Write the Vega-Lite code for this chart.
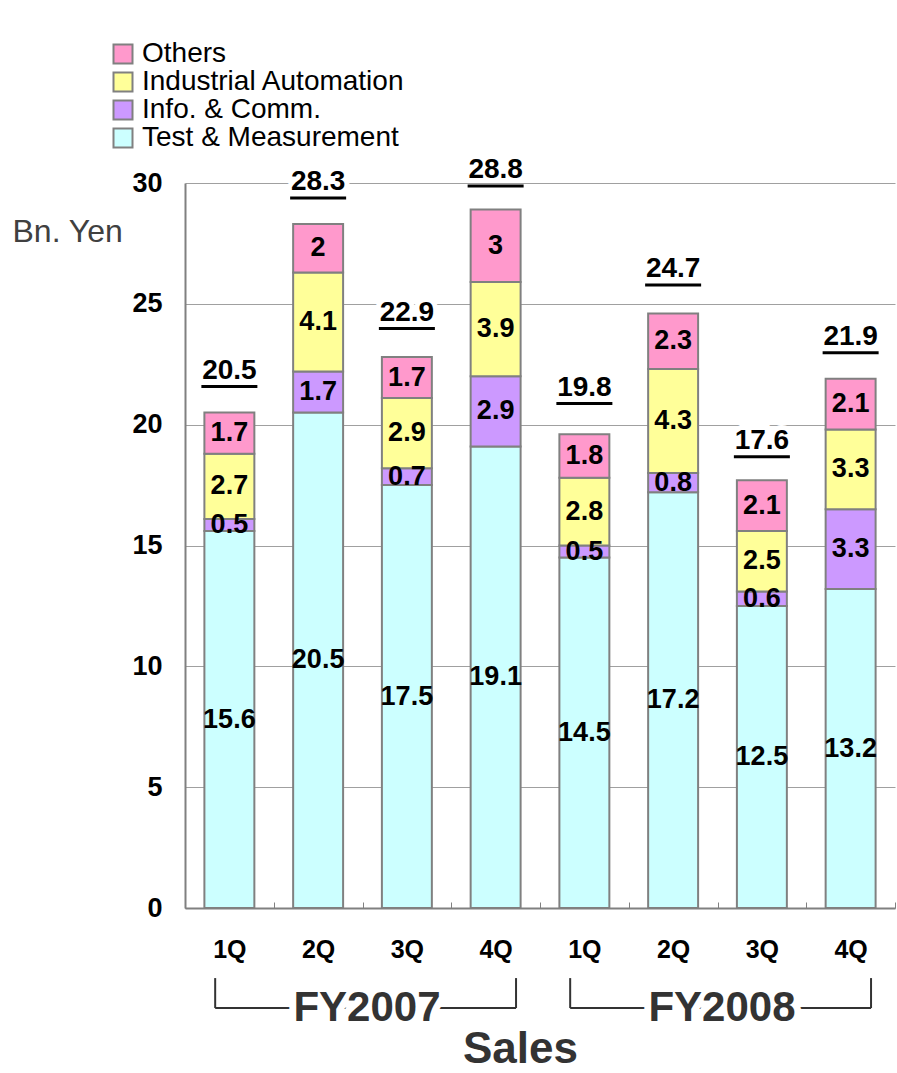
{
  "$schema": "https://vega.github.io/schema/vega-lite/v6.json",
  "autosize": {"type": "none"},
  "padding": {"left": 185, "top": 183, "right": 2, "bottom": 165},
  "width": 710,
  "height": 725,
  "config": {"font": "Liberation Sans", "view": {"stroke": null}},
  "datasets": {
    "segments": [
      {"key": "FY2007 1Q", "segment": "Test & Measurement", "rank": 1, "value": 15.6},
      {"key": "FY2007 1Q", "segment": "Info. & Comm.", "rank": 2, "value": 0.5},
      {"key": "FY2007 1Q", "segment": "Industrial Automation", "rank": 3, "value": 2.7},
      {"key": "FY2007 1Q", "segment": "Others", "rank": 4, "value": 1.7},
      {"key": "FY2007 2Q", "segment": "Test & Measurement", "rank": 1, "value": 20.5},
      {"key": "FY2007 2Q", "segment": "Info. & Comm.", "rank": 2, "value": 1.7},
      {"key": "FY2007 2Q", "segment": "Industrial Automation", "rank": 3, "value": 4.1},
      {"key": "FY2007 2Q", "segment": "Others", "rank": 4, "value": 2},
      {"key": "FY2007 3Q", "segment": "Test & Measurement", "rank": 1, "value": 17.5},
      {"key": "FY2007 3Q", "segment": "Info. & Comm.", "rank": 2, "value": 0.7},
      {"key": "FY2007 3Q", "segment": "Industrial Automation", "rank": 3, "value": 2.9},
      {"key": "FY2007 3Q", "segment": "Others", "rank": 4, "value": 1.7},
      {"key": "FY2007 4Q", "segment": "Test & Measurement", "rank": 1, "value": 19.1},
      {"key": "FY2007 4Q", "segment": "Info. & Comm.", "rank": 2, "value": 2.9},
      {"key": "FY2007 4Q", "segment": "Industrial Automation", "rank": 3, "value": 3.9},
      {"key": "FY2007 4Q", "segment": "Others", "rank": 4, "value": 3},
      {"key": "FY2008 1Q", "segment": "Test & Measurement", "rank": 1, "value": 14.5},
      {"key": "FY2008 1Q", "segment": "Info. & Comm.", "rank": 2, "value": 0.5},
      {"key": "FY2008 1Q", "segment": "Industrial Automation", "rank": 3, "value": 2.8},
      {"key": "FY2008 1Q", "segment": "Others", "rank": 4, "value": 1.8},
      {"key": "FY2008 2Q", "segment": "Test & Measurement", "rank": 1, "value": 17.2},
      {"key": "FY2008 2Q", "segment": "Info. & Comm.", "rank": 2, "value": 0.8},
      {"key": "FY2008 2Q", "segment": "Industrial Automation", "rank": 3, "value": 4.3},
      {"key": "FY2008 2Q", "segment": "Others", "rank": 4, "value": 2.3},
      {"key": "FY2008 3Q", "segment": "Test & Measurement", "rank": 1, "value": 12.5},
      {"key": "FY2008 3Q", "segment": "Info. & Comm.", "rank": 2, "value": 0.6},
      {"key": "FY2008 3Q", "segment": "Industrial Automation", "rank": 3, "value": 2.5},
      {"key": "FY2008 3Q", "segment": "Others", "rank": 4, "value": 2.1},
      {"key": "FY2008 4Q", "segment": "Test & Measurement", "rank": 1, "value": 13.2},
      {"key": "FY2008 4Q", "segment": "Info. & Comm.", "rank": 2, "value": 3.3},
      {"key": "FY2008 4Q", "segment": "Industrial Automation", "rank": 3, "value": 3.3},
      {"key": "FY2008 4Q", "segment": "Others", "rank": 4, "value": 2.1}
    ],
    "totals": [
      {"key": "FY2007 1Q", "total": 20.5},
      {"key": "FY2007 2Q", "total": 28.3},
      {"key": "FY2007 3Q", "total": 22.9},
      {"key": "FY2007 4Q", "total": 28.8},
      {"key": "FY2008 1Q", "total": 19.8},
      {"key": "FY2008 2Q", "total": 24.7},
      {"key": "FY2008 3Q", "total": 17.6},
      {"key": "FY2008 4Q", "total": 21.9}
    ],
    "years": [
      {"fy": "FY2007", "start": "FY2007 1Q", "mid": "FY2007 3Q", "end": "FY2007 4Q"},
      {"fy": "FY2008", "start": "FY2008 1Q", "mid": "FY2008 3Q", "end": "FY2008 4Q"}
    ],
    "caption": [{"label": "Sales", "key": "FY2007 4Q"}]
  },
  "encoding": {
    "x": {
      "field": "key",
      "type": "nominal",
      "scale": {
        "domain": ["FY2007 1Q", "FY2007 2Q", "FY2007 3Q", "FY2007 4Q", "FY2008 1Q", "FY2008 2Q", "FY2008 3Q", "FY2008 4Q"],
        "paddingInner": 0,
        "paddingOuter": 0
      },
      "axis": {
        "title": null,
        "labelExpr": "split(datum.value, ' ')[1]",
        "labelAngle": 0,
        "labelFontSize": 25,
        "labelFontWeight": "bold",
        "labelColor": "black",
        "labelPadding": 35,
        "tickBand": "extent",
        "tickSize": -6,
        "tickColor": "#808080",
        "tickWidth": 1,
        "domainColor": "#808080",
        "domainWidth": 2,
        "grid": false
      }
    }
  },
  "layer": [
    {
      "data": {"name": "segments"},
      "mark": {"type": "bar", "width": {"band": 0.563}, "stroke": "#808080", "strokeWidth": 2},
      "encoding": {
        "y": {
          "field": "value",
          "type": "quantitative",
          "stack": "zero",
          "scale": {"domain": [0, 30], "nice": false},
          "axis": {
            "title": "Bn. Yen",
            "titleAngle": 0,
            "titleAlign": "left",
            "titleBaseline": "middle",
            "titleX": -173,
            "titleY": 48,
            "titleFontSize": 32,
            "titleFontWeight": "normal",
            "titleColor": "#404040",
            "values": [0, 5, 10, 15, 20, 25, 30],
            "labelFontSize": 27,
            "labelFontWeight": "bold",
            "labelColor": "black",
            "labelPadding": 23,
            "ticks": false,
            "grid": true,
            "gridColor": "#a0a0a0",
            "gridWidth": 1,
            "domainColor": "#808080",
            "domainWidth": 2
          }
        },
        "order": {"field": "rank", "type": "quantitative"},
        "color": {
          "field": "segment",
          "type": "nominal",
          "scale": {
            "domain": ["Test & Measurement", "Info. & Comm.", "Industrial Automation", "Others"],
            "range": ["#CCFFFF", "#CC99FF", "#FFFF99", "#FF99CC"]
          },
          "legend": {
            "orient": "none",
            "legendX": -76,
            "legendY": -143,
            "title": null,
            "padding": 0,
            "values": ["Others", "Industrial Automation", "Info. & Comm.", "Test & Measurement"],
            "symbolType": "square",
            "symbolSize": 361,
            "symbolStrokeColor": "#808080",
            "symbolStrokeWidth": 2,
            "labelFontSize": 28,
            "labelColor": "black",
            "labelOffset": 5,
            "labelLimit": 500,
            "rowPadding": 0
          }
        }
      }
    },
    {
      "data": {"name": "segments"},
      "mark": {"type": "text", "fontSize": 27, "fontWeight": "bold", "color": "black", "baseline": "middle"},
      "encoding": {
        "y": {"field": "value", "type": "quantitative", "stack": "zero", "bandPosition": 0.5},
        "order": {"field": "rank", "type": "quantitative"},
        "detail": {"field": "segment", "type": "nominal"},
        "text": {"field": "value", "type": "quantitative"}
      }
    },
    {
      "data": {"name": "totals"},
      "mark": {"type": "text", "fontSize": 28, "fontWeight": "bold", "color": "white", "stroke": "white", "strokeWidth": 10, "baseline": "middle", "dy": -42},
      "encoding": {
        "y": {"field": "total", "type": "quantitative"},
        "text": {"field": "total", "type": "quantitative", "format": ".1f"}
      }
    },
    {
      "data": {"name": "totals"},
      "mark": {"type": "text", "fontSize": 28, "fontWeight": "bold", "color": "black", "baseline": "middle", "dy": -42},
      "encoding": {
        "y": {"field": "total", "type": "quantitative"},
        "text": {"field": "total", "type": "quantitative", "format": ".1f"}
      }
    },
    {
      "data": {"name": "totals"},
      "mark": {"type": "tick", "size": 56, "thickness": 3, "color": "black", "yOffset": -26, "opacity": 1},
      "encoding": {
        "y": {"field": "total", "type": "quantitative"}
      }
    },
    {
      "data": {"name": "years"},
      "mark": {"type": "rule", "color": "#333333", "strokeWidth": 2},
      "encoding": {
        "x": {"field": "start", "type": "nominal", "bandPosition": 0.34},
        "y": {"datum": -2.9, "type": "quantitative"},
        "y2": {"datum": -4.14}
      }
    },
    {
      "data": {"name": "years"},
      "mark": {"type": "rule", "color": "#333333", "strokeWidth": 2},
      "encoding": {
        "x": {"field": "end", "type": "nominal", "bandPosition": 0.73},
        "y": {"datum": -2.9, "type": "quantitative"},
        "y2": {"datum": -4.14}
      }
    },
    {
      "data": {"name": "years"},
      "mark": {"type": "rule", "color": "#333333", "strokeWidth": 2},
      "encoding": {
        "x": {"field": "start", "type": "nominal", "bandPosition": 0.34},
        "x2": {"field": "end", "bandPosition": 0.73},
        "y": {"datum": -4.14, "type": "quantitative"}
      }
    },
    {
      "data": {"name": "years"},
      "mark": {"type": "text", "fontSize": 42, "fontWeight": "bold", "color": "white", "stroke": "white", "strokeWidth": 14, "baseline": "middle"},
      "encoding": {
        "x": {"field": "mid", "type": "nominal", "bandPosition": 0.05},
        "y": {"datum": -4.14, "type": "quantitative"},
        "text": {"field": "fy"}
      }
    },
    {
      "data": {"name": "years"},
      "mark": {"type": "text", "fontSize": 42, "fontWeight": "bold", "color": "#333333", "baseline": "middle"},
      "encoding": {
        "x": {"field": "mid", "type": "nominal", "bandPosition": 0.05},
        "y": {"datum": -4.14, "type": "quantitative"},
        "text": {"field": "fy"}
      }
    },
    {
      "data": {"name": "caption"},
      "mark": {"type": "text", "fontSize": 44, "fontWeight": "bold", "color": "#333333", "baseline": "middle"},
      "encoding": {
        "x": {"field": "key", "type": "nominal", "bandPosition": 0.78},
        "y": {"datum": -5.88, "type": "quantitative"},
        "text": {"field": "label"}
      }
    }
  ]
}
